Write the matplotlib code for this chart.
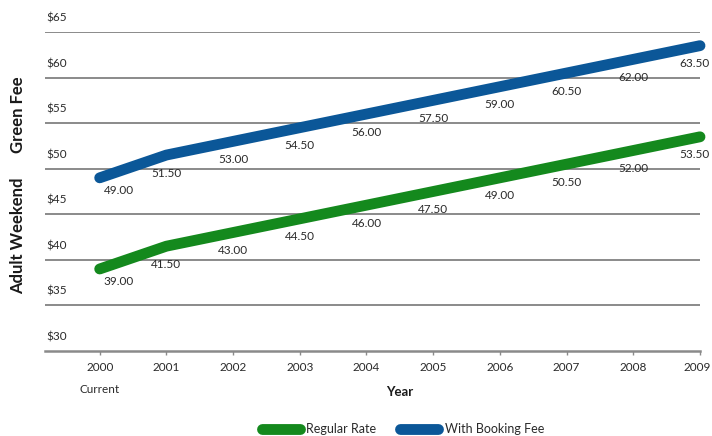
import matplotlib
matplotlib.use("Agg")
import matplotlib.pyplot as plt
import matplotlib.transforms as mtransforms

# data
years = [2000, 2001, 2002, 2003, 2004, 2005, 2006, 2007, 2008, 2009]
regular_rate = [39.00, 41.50, 43.00, 44.50, 46.00, 47.50, 49.00, 50.50, 52.00, 53.50]
booking_fee = [49.00, 51.50, 53.00, 54.50, 56.00, 57.50, 59.00, 60.50, 62.00, 63.50]
y_ticks = [30, 35, 40, 45, 50, 55, 60, 65]

green = "#14891d"
blue = "#0b5798"
grid_col = "#8a8a8a"
text_col = "#2a2a2a"

plt.rcParams['font.family'] = ['Lato', 'DejaVu Sans']

W, H = 712, 436
fig = plt.figure(figsize=(W / 100, H / 100), dpi=100)
ax = fig.add_axes([45 / W, 85 / H, 655 / W, 319 / H])

ax.set_xlim(1999.18, 2009)
ax.set_ylim(30, 65)

# gridlines
for v in y_ticks[1:]:
    ax.axhline(v, color=grid_col, lw=1.4, zorder=1)
for s in ['left', 'right', 'top']:
    ax.spines[s].set_visible(False)
ax.spines['bottom'].set_color(grid_col)
ax.spines['bottom'].set_linewidth(1.8)

ax.set_yticks([])
for v in y_ticks:
    ax.annotate("$%d" % v, xy=(0, v), xycoords=('axes fraction', 'data'),
                xytext=(1, 14), textcoords='offset pixels', ha='left', va='center',
                fontsize=8.5, color=text_col)

ax.set_xticks(years)
ax.set_xticklabels([str(y) for y in years], fontsize=8.5, color=text_col)
ax.tick_params(axis='x', length=3, width=1, color=grid_col, pad=5)
# nudge the last year label so it stays inside the figure
last = ax.get_xticklabels()[-1]
last.set_transform(last.get_transform() +
                   mtransforms.ScaledTranslation(-0.03, 0, fig.dpi_scale_trans))

ax.text(2000, -0.12, "Current", transform=ax.get_xaxis_transform(),
        ha='center', va='center', fontsize=8.5, color=text_col)

l1, = ax.plot(years, regular_rate, color=green, lw=7.8, solid_capstyle='round',
              clip_on=False, zorder=3, label="Regular Rate")
l2, = ax.plot(years, booking_fee, color=blue, lw=7.8, solid_capstyle='round',
              clip_on=False, zorder=3, label="With Booking Fee")

for series in (regular_rate, booking_fee):
    for i, (x, y) in enumerate(zip(years, series)):
        if i == 0:
            off = (19, -13)
        elif i == len(years) - 1:
            off = (-6, -18)
        else:
            off = (0, -18)
        ax.annotate("%.2f" % y, xy=(x, y), xytext=off, textcoords='offset pixels',
                    ha='center', va='center', fontsize=8.5, color=text_col,
                    annotation_clip=False, zorder=4)

fig.text(400 / W, 1 - 392 / H, "Year", ha='center', va='center',
         fontsize=9.5, fontweight='bold', color='#1a1a1a')
fig.text(18 / W, 1 - 236 / H, "Adult Weekend", rotation=90, ha='center', va='center',
         fontsize=12, fontweight='bold', color='#1a1a1a')
fig.text(18 / W, 1 - 115 / H, "Green Fee", rotation=90, ha='center', va='center',
         fontsize=12, fontweight='bold', color='#1a1a1a')

fig.legend(handles=[l1, l2], loc='center', bbox_to_anchor=(403 / W, 1 - 429 / H),
           ncol=2, frameon=False, fontsize=9, handlelength=3.0,
           handletextpad=0.55, columnspacing=1.9, labelcolor=text_col)

fig.savefig("out.png", dpi=100)
